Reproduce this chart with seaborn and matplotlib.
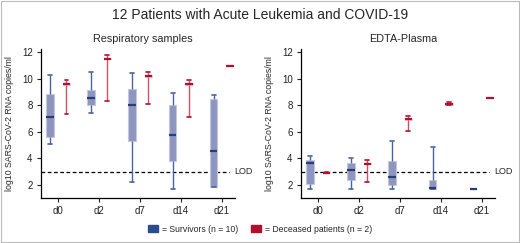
import matplotlib
matplotlib.use("Agg")
import matplotlib.pyplot as plt
from matplotlib.patches import Patch, Rectangle
import seaborn as sns
import pandas as pd

# ---- data (five-number summaries: min, q1, median, q3, max) ----
days = ["d0", "d2", "d7", "d14", "d21"]
groups = ["Survivors", "Deceased"]

resp_survivors = [
    [5.05, 5.63, 7.09, 8.85, 10.28],
    [7.44, 8.02, 8.57, 9.13, 10.51],
    [2.25, 5.30, 7.99, 9.22, 10.44],
    [1.70, 3.81, 5.73, 8.05, 8.95],
    [1.82, 1.82, 4.52, 8.50, 8.80],
]
resp_deceased = [
    [7.34, 9.55, 9.60, 9.65, 9.88],
    [8.32, 11.47, 11.52, 11.57, 11.82],
    [8.07, 10.16, 10.21, 10.26, 10.49],
    [7.11, 9.55, 9.60, 9.65, 9.88],
    [10.92, 10.92, 10.92, 10.92, 10.92],
]
plasma_survivors = [
    [1.67, 2.07, 3.63, 3.85, 4.19],
    [1.67, 2.38, 3.13, 3.62, 4.00],
    [1.67, 1.97, 2.60, 3.80, 5.29],
    [1.70, 1.72, 1.76, 2.38, 4.83],
    [1.68, 1.68, 1.68, 1.68, 1.68],
]
plasma_deceased = [
    [2.93, 2.90, 2.93, 2.97, 2.97],
    [2.23, 3.55, 3.60, 3.65, 3.90],
    [6.07, 6.90, 6.95, 7.00, 7.17],
    [8.00, 8.05, 8.11, 8.17, 8.25],
    [8.54, 8.54, 8.54, 8.54, 8.54],
]
panel_titles = ["Respiratory samples", "EDTA-Plasma"]
lod_value = 3.0
legend_labels = ["= Survivors (n = 10)", "= Deceased patients (n = 2)"]


def long_frame(surv, dec):
    rows = []
    for g, table in zip(groups, [surv, dec]):
        for day, vals in zip(days, table):
            for v in vals:
                rows.append({"day": day, "group": g, "value": v})
    return pd.DataFrame(rows)


sns.set_style("ticks")
plt.rcParams["font.family"] = ["Liberation Sans", "DejaVu Sans"]

fig = plt.figure(figsize=(5.2, 2.43), dpi=100)
W, H = 520, 243
axes = [
    fig.add_axes([41 / W, 1 - 197.5 / H, 194 / W, 148 / H]),
    fig.add_axes([301 / W, 1 - 197.5 / H, 194 / W, 148 / H]),
]

styles = {
    "Survivors": dict(fill="#8e96bf", edge="#c3c8e0", whisk="#4a64a0", med="#2a3b75"),
    "Deceased": dict(fill="#f2c4cc", edge="#f2c4cc", whisk="#cc5068", med="#b3102e"),
}

for ax, (surv, dec), title in zip(
    axes, [(resp_survivors, resp_deceased), (plasma_survivors, plasma_deceased)], panel_titles
):
    df = long_frame(surv, dec)
    ax.axhline(lod_value, xmin=0.0, xmax=0.97, color="black", ls=(0, (3, 2)), lw=0.9, zorder=0)
    for g in groups:
        st = styles[g]
        sns.boxplot(
            data=df[df["group"] == g], x="day", y="value", hue="group",
            order=days, hue_order=groups, dodge=True,
            palette={groups[0]: styles[groups[0]]["fill"], groups[1]: styles[groups[1]]["fill"]},
            saturation=1, width=0.8, gap=0.55, whis=(0, 100), legend=False, ax=ax,
            boxprops=dict(edgecolor=st["edge"], linewidth=0.8),
            whiskerprops=dict(color=st["whisk"], linewidth=1.0),
            capprops=dict(color=st["whisk"] if g == "Survivors" else st["med"], linewidth=1.2),
            medianprops=dict(color=st["med"], linewidth=1.6),
        )
    ax.set_ylim(1.05, 12.2)
    ax.set_xlim(-0.42, 4.32)
    ax.set_yticks([2, 4, 6, 8, 10, 12])
    ax.set_xlabel("")
    ax.set_ylabel("log10 SARS-CoV-2 RNA copies/ml", fontsize=6.3,
                  family=["Liberation Sans Narrow", "Liberation Sans", "DejaVu Sans"], labelpad=6)
    ax.tick_params(axis="both", labelsize=7, length=3, width=0.8, colors="#222222", pad=3)
    for s in ["left", "bottom"]:
        ax.spines[s].set_linewidth(0.9)
        ax.spines[s].set_color("black")
    sns.despine(ax=ax)
    ax.text(0.995, lod_value, "LOD", transform=ax.get_yaxis_transform(), fontsize=6.5,
            va="center", ha="left", clip_on=False)

fig.text(143 / W, 1 - 39 / H, panel_titles[0], ha="center", va="center", fontsize=7.8)
fig.text(403 / W, 1 - 39 / H, panel_titles[1], ha="center", va="center", fontsize=7.8)
fig.text(0.5, 1 - 15 / H, "12 Patients with Acute Leukemia and COVID-19",
         ha="center", va="center", fontsize=10)

handles = [Patch(facecolor="#2c4b8c", edgecolor="#2c4b8c"),
           Patch(facecolor="#b0102c", edgecolor="#b0102c")]
fig.legend(handles, legend_labels, loc="center", bbox_to_anchor=(0.5, 1 - 229 / H), ncol=2,
           frameon=False, fontsize=6.2, handlelength=1.2, handleheight=0.8,
           handletextpad=0.5, columnspacing=1.4)

fig.patches.append(Rectangle((0.002, 0.004), 0.996, 0.992, transform=fig.transFigure,
                             fill=False, edgecolor="#bbbbbb", linewidth=0.8))

fig.savefig("out.png", dpi=100)
